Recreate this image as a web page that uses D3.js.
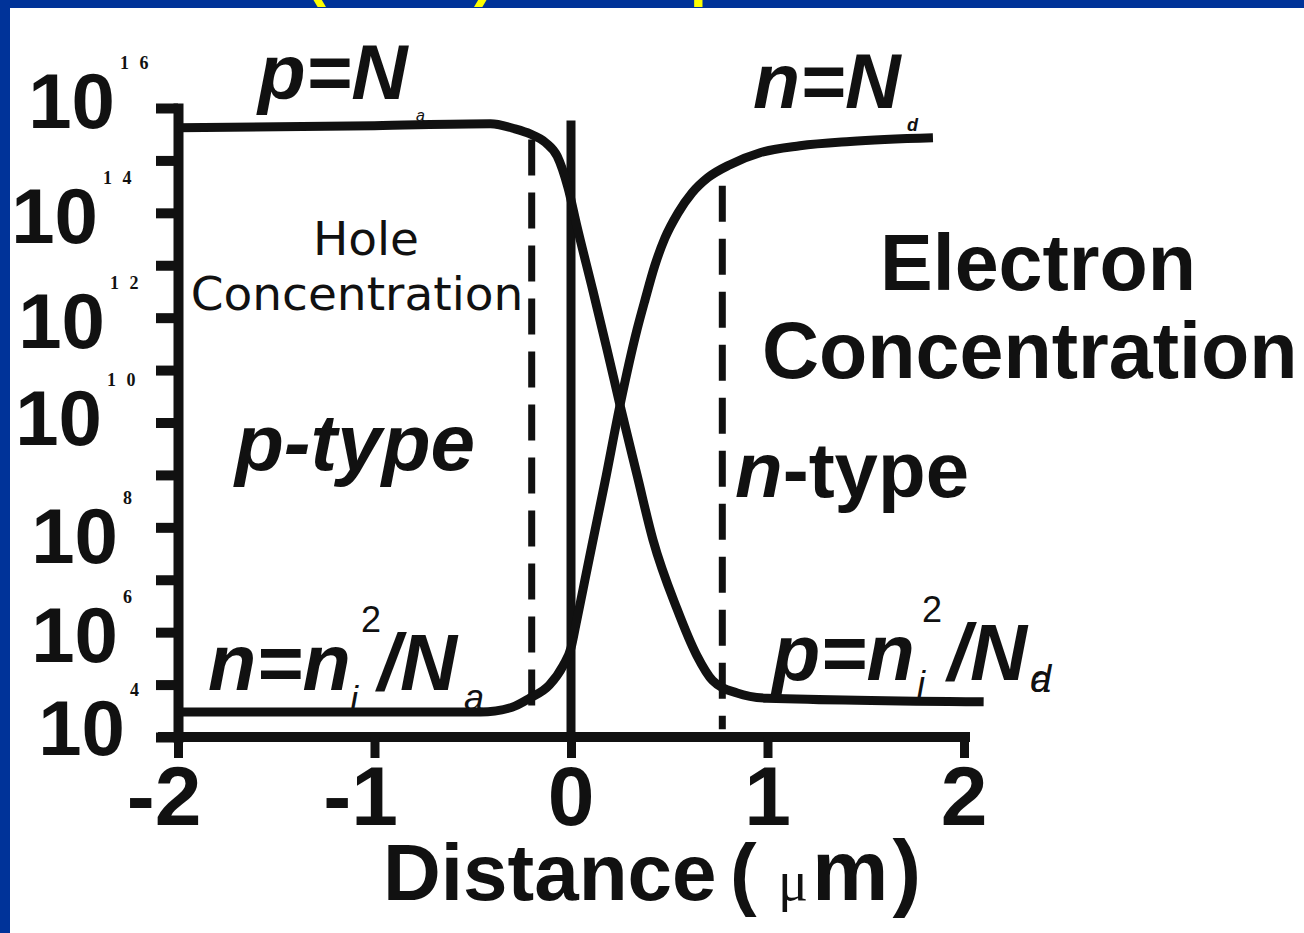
<!DOCTYPE html>
<html>
<head>
<meta charset="utf-8">
<script src="https://cdn.jsdelivr.net/npm/d3@7"></script>
<style>
  body { margin: 0; background: #fff; }
  svg { display: block; }
</style>
</head>
<body>
<svg id="chart" width="1304" height="933"></svg>
<script>
// ---- data -------------------------------------------------------------
// distance tick values (µm)
const distanceTicks = [-2, -1, 0, 1, 2];
// one tick per decade on the concentration axis (cm^-3)
const decadeTicks = [1e4, 1e5, 1e6, 1e7, 1e8, 1e9, 1e10, 1e11, 1e12, 1e13, 1e14, 1e15, 1e16];
// labelled decades (exponents of 10)
const labelExponents = [16, 14, 12, 10, 8, 6, 4];

// hole concentration p(x)
const holeDistance = [-2.0, -1.0, -0.41, -0.285, -0.208, -0.13, -0.07, -0.015, 0.03, 0.112,
                      0.183, 0.25, 0.336, 0.417, 0.539, 0.64, 0.72, 0.845, 0.997, 2.1];
const holeConc     = [4.2e15, 4.6e15, 5.0e15, 4.0e15, 3.2e15, 2.2e15, 1.2e15, 3.0e14, 5.6e13, 3.2e12,
                      2.5e11, 2.1e10, 1.0e9, 5.8e7, 2.8e6, 3.6e5, 1.2e5, 6.9e4, 5.5e4, 4.7e4];

// electron concentration n(x)
const electronDistance = [-2.0, -0.46, -0.30, -0.21, -0.11, -0.04, 0.0, 0.025, 0.061, 0.107,
                          0.173, 0.249, 0.336, 0.377, 0.427, 0.478, 0.545, 0.616, 0.697, 0.809,
                          0.962, 1.165, 1.42, 1.842];
const electronConc     = [3.0e4, 3.0e4, 3.7e4, 5.5e4, 9.8e4, 2.3e5, 5.0e5, 1.4e6, 6.5e6, 4.6e7,
                          7.4e8, 2.1e10, 5.9e11, 2.2e12, 1.0e13, 3.3e13, 1.0e14, 2.4e14, 4.7e14, 8.3e14,
                          1.4e15, 1.9e15, 2.3e15, 2.7e15];

// metallurgical junction and depletion-region edges (µm) with their vertical extents
const junctionLine = { x: 0, top: 5.8e15, bottom: 1e4 };
const depletionEdges = [
  { x: -0.2, top: 2.5e15, bottom: 3.0e4 },
  { x: 0.77, top: 3.3e14, bottom: 1.4e4 }
];

// ---- layout -----------------------------------------------------------
const W = 1304, H = 933;
const ink = "#111";
const sans = "'Liberation Sans', Arial, Helvetica, sans-serif";

const svg = d3.select("#chart");

// slide frame
svg.append("rect").attr("x", 0).attr("y", 0).attr("width", W).attr("height", 8).attr("fill", "#003399");
svg.append("rect").attr("x", 0).attr("y", 0).attr("width", 10).attr("height", H).attr("fill", "#003399");

// slide title, sitting mostly above the visible area
svg.append("clipPath").attr("id", "titleClip")
  .append("rect").attr("x", 0).attr("y", 0).attr("width", W).attr("height", 8);
const title = svg.append("text")
  .attr("clip-path", "url(#titleClip)")
  .attr("y", -5)
  .attr("fill", "#ffff00")
  .attr("font-family", sans)
  .attr("font-weight", "bold")
  .attr("font-size", 60);
[["(", 306], ["Ideal", 325], [")", 474], ["Diode", 510], ["p-n Junction", 690]].forEach(([t, xx]) =>
  title.append("tspan").attr("x", xx).text(t));

// scales
const x = d3.scaleLinear().domain([-2, 2]).range([178, 964]);
const y = d3.scaleLog().domain([1e4, 1e16]).range([737, 108]);

// y axis
const yAxis = svg.append("g")
  .attr("transform", `translate(${x(-2)},0)`)
  .call(d3.axisLeft(y).tickValues(decadeTicks).tickSize(22).tickSizeOuter(0).tickFormat(""));
yAxis.select(".domain").attr("stroke", ink).attr("stroke-width", 10).attr("stroke-linecap", "square");
yAxis.selectAll(".tick line").attr("stroke", ink).attr("stroke-width", 10);

// x axis
const xAxis = svg.append("g")
  .attr("transform", `translate(0,${y(1e4)})`)
  .call(d3.axisBottom(x).tickValues(distanceTicks).tickSize(21).tickSizeOuter(0)
        .tickFormat(d => String(d)));
xAxis.select(".domain")
  .attr("d", `M${x.range()[0] - 20},0H${x.range()[1] + 6}`)
  .attr("stroke", ink).attr("stroke-width", 10);
xAxis.selectAll(".tick line").attr("stroke", ink).attr("stroke-width", 9);
xAxis.selectAll(".tick text")
  .attr("x", 23).attr("y", 88).attr("dy", 0)
  .attr("text-anchor", "end")
  .attr("fill", ink)
  .attr("font-family", sans)
  .attr("font-weight", "bold")
  .attr("font-size", 84);

// y tick labels: 10 with superscript exponent
const labelNudge = [[3, -8], [-14, 2], [-7, 2], [-10, -6], [6, 8], [6, 2], [13, -10]];
labelExponents.forEach((e, i) => {
  const [dx, dy] = labelNudge[i];
  const g = svg.append("g")
    .attr("transform", `translate(${112 + dx},${y(Math.pow(10, e)) + 28 + dy})`);
  g.append("text")
    .attr("text-anchor", "end")
    .attr("fill", ink)
    .attr("font-family", sans)
    .attr("font-weight", "bold")
    .attr("font-size", 78)
    .text("10");
  g.append("text")
    .attr("x", 5).attr("y", -59)
    .attr("fill", ink)
    .attr("font-family", "'Liberation Serif', 'Times New Roman', serif")
    .attr("font-weight", "bold")
    .attr("font-size", 18)
    .attr("letter-spacing", 3)
    .text(String(e).split("").join(" "));
});

// x axis title
const xTitle = svg.append("text")
  .attr("x", 383).attr("y", 900)
  .attr("fill", ink)
  .attr("font-family", sans)
  .attr("font-weight", "bold")
  .attr("font-size", 80);
xTitle.append("tspan").text("Distance");
xTitle.append("tspan").attr("x", 730).text("(");
xTitle.append("tspan").attr("x", 778)
  .attr("font-family", "'Liberation Serif', 'Times New Roman', serif")
  .attr("font-weight", "normal").attr("font-size", 56).text("μ");
xTitle.append("tspan").attr("x", 812).attr("font-size", 86).attr("letter-spacing", 4).text("m)");

// junction and depletion-edge markers
svg.append("line")
  .attr("x1", x(junctionLine.x)).attr("x2", x(junctionLine.x))
  .attr("y1", y(junctionLine.top)).attr("y2", y(junctionLine.bottom))
  .attr("stroke", ink).attr("stroke-width", 9);
svg.selectAll(".edge").data(depletionEdges).join("line")
  .attr("class", "edge")
  .attr("x1", d => x(d.x)).attr("x2", d => x(d.x))
  .attr("y1", d => y(d.top)).attr("y2", d => y(d.bottom))
  .attr("stroke", ink).attr("stroke-width", 7)
  .attr("stroke-dasharray", "36,17");

// concentration curves
const line = d3.line().x(d => x(d[0])).y(d => y(d[1])).curve(d3.curveMonotoneX);
const holes = holeDistance.map((d, i) => [d, holeConc[i]]);
const electrons = electronDistance.map((d, i) => [d, electronConc[i]]);
[holes, electrons].forEach(s => {
  svg.append("path").datum(s)
    .attr("d", line)
    .attr("fill", "none")
    .attr("stroke", ink)
    .attr("stroke-width", 9)
    .attr("stroke-linejoin", "round");
});

// annotations
function label(parts, xx, yy, size) {
  const t = svg.append("text").attr("x", xx).attr("y", yy)
    .attr("fill", ink).attr("font-family", sans).attr("font-size", size);
  parts.forEach(p => {
    const s = t.append("tspan").text(p.t)
      .attr("font-weight", p.w || "bold")
      .attr("font-style", p.i ? "italic" : "normal");
    if (p.x !== undefined) s.attr("x", p.x);
    if (p.y !== undefined) s.attr("y", p.y);
    if (p.size) s.attr("font-size", p.size);
  });
  return t;
}

// p = N_a
label([{ t: "p=N", i: true }, { t: "a", x: 416, y: 121, size: 16, w: "normal", i: true }], 258, 99, 78);
// n = N_d
label([{ t: "n=N", i: true }, { t: "d", x: 907, y: 131, size: 18, w: "bold", i: true }], 753, 108, 77);

// Hole Concentration
svg.append("text").attr("x", 366).attr("y", 255).attr("text-anchor", "middle")
  .attr("fill", ink).attr("font-family", "'DejaVu Sans', Verdana, sans-serif")
  .attr("font-size", 47).text("Hole");
svg.append("text").attr("x", 357).attr("y", 310).attr("text-anchor", "middle")
  .attr("fill", ink).attr("font-family", "'DejaVu Sans', Verdana, sans-serif")
  .attr("font-size", 47).text("Concentration");

// p-type
label([{ t: "p-type", i: true }], 235, 470, 80);

// Electron Concentration
label([{ t: "Electron" }], 880, 290, 79);
label([{ t: "Concentration" }], 762, 378, 79);

// n-type
label([{ t: "n", i: true }, { t: "-type" }], 735, 497, 78);

// n = n_i^2 / N_a
label([
  { t: "n=n", i: true },
  { t: "i", x: 350, y: 712, size: 36, w: "normal", i: true },
  { t: "2", x: 361, y: 632, size: 36, w: "normal" },
  { t: "/N", x: 378, y: 690, i: true },
  { t: "a", x: 464, y: 710, size: 36, w: "normal", i: true }
], 208, 690, 79);

// p = n_i^2 / N_d
label([
  { t: "p=n", i: true },
  { t: "i", x: 917, y: 697, size: 36, w: "normal", i: true },
  { t: "2", x: 922, y: 622, size: 36, w: "normal" },
  { t: "/N", x: 948, y: 680, i: true },
  { t: "a", x: 1031, y: 692, size: 36, w: "normal", i: true },
  { t: "d", x: 1030, y: 692, size: 38, w: "normal", i: true }
], 772, 680, 79);
</script>
</body>
</html>
